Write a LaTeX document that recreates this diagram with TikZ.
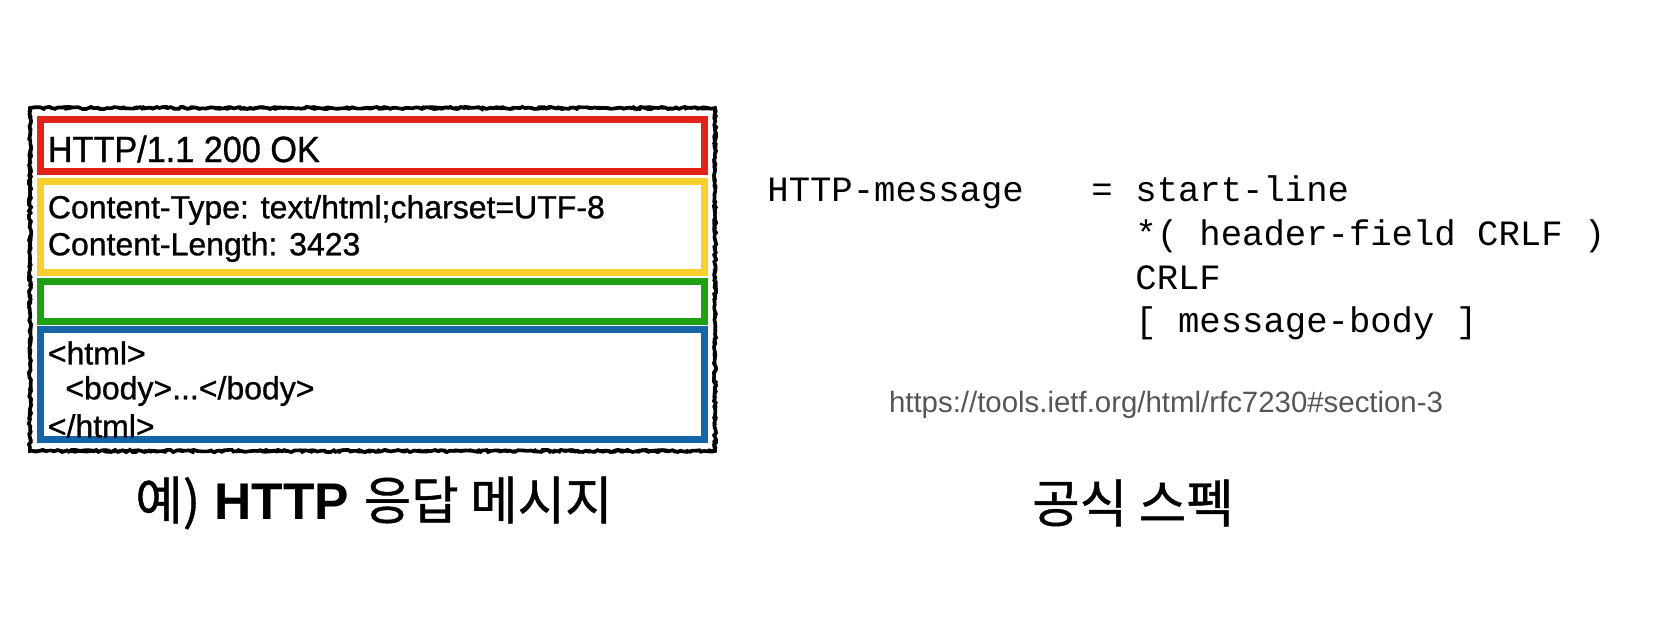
\documentclass[tikz,border=0pt]{standalone}
\usepackage{fontspec}
\setmainfont{Liberation Sans}
\setmonofont{Liberation Mono}
\newfontfamily\fieldfont{Liberation Sans}[FakeBold=0.9]
\newfontfamily\statusfont{Liberation Sans}[FakeBold=0.9, FakeStretch=0.94]
\newfontfamily\krfont{Noto Sans CJK KR}[FakeBold=0.8]
\usetikzlibrary{positioning,decorations.pathmorphing}
\definecolor{boxred}{HTML}{E2231A}
\definecolor{boxyellow}{HTML}{F9CF2E}
\definecolor{boxgreen}{HTML}{1DA014}
\definecolor{boxblue}{HTML}{1565A8}
\definecolor{urlgray}{HTML}{555555}
\begin{document}
\begin{tikzpicture}[x=0.5pt, y=-0.5pt,
        fieldbox/.style={draw, line width=3.5pt, minimum width=332pt, inner sep=0pt},
        fieldtext/.style={anchor=west, inner sep=0pt, font=\fieldfont\fontsize{16}{19}\selectfont},
        specline/.style={anchor=west, inner sep=0pt, text height=14pt, text depth=7.5pt,
            font=\ttfamily\fontsize{17.8}{21.5}\selectfont},
        caption/.style={inner sep=0pt, font=\fontsize{25.8}{30}\selectfont}]
        \useasboundingbox (0,0) rectangle (1653,619);
        % Moldura desenhada a mao
        \pgfmathsetseed{7}
        \draw[line width=1.8pt, decorate, decoration={random steps, segment length=1.5pt, amplitude=0.6pt}] (30,108) rectangle (715,451);
        \draw[line width=1.2pt, decorate, decoration={random steps, segment length=2pt, amplitude=0.8pt}] (30,108) rectangle (715,451);
        % Define as caixas da mensagem
        \node[fieldbox, draw=boxred, minimum height=26pt] (startline) at (372.5,145.5) {};
        \node[fieldbox, draw=boxyellow, minimum height=45.75pt] (headers) at (372.5,227.25) {};
        \node[fieldbox, draw=boxgreen, minimum height=20pt] (blank) at (372.5,301.5) {};
        \node[fieldbox, draw=boxblue, minimum height=55pt] (body) at (372.5,384.5) {};
        % Adiciona os textos da resposta
        \node[fieldtext, font=\statusfont\fontsize{18.2}{21}\selectfont] (status) at (47.5,149) {HTTP/1.1 200 OK};
        \node[fieldtext] (ctype) at (47.5,210) {Content-Type: text/html;charset=UTF-8};
        \node[fieldtext] (clength) at (47.5,247) {Content-Length: 3423};
        \node[fieldtext] (htmlopen) at (47.5,353) {<html>};
        \node[fieldtext] (bodytag) at (65,391) {<body>...</body>};
        \node[fieldtext] (htmlclose) at (47.5,426) {</html>};
        % Adiciona a gramatica da mensagem
        \node[specline] (msgname) at (767,195) {HTTP-message};
        \node[specline] (eq) at (1091,195) {=};
        \node[specline] (sl) at (1135,195) {start-line};
        \node[specline, below=0pt of sl.south west, anchor=north west] (hf) {*( header-field CRLF )};
        \node[specline, below=0pt of hf.south west, anchor=north west] (crlf) {CRLF};
        \node[specline, below=0pt of crlf.south west, anchor=north west] (mb) {[ message-body ]};
        \node[inner sep=0pt, text=urlgray, font=\fontsize{14.7}{17}\selectfont] (url) at (1166,405) {https://tools.ietf.org/html/rfc7230\#section-3};
        % Adiciona as legendas
        \node[caption] (leftcap) at (374,503) {{\krfont 예)} \textbf{HTTP} {\krfont 응답 메시지}};
        \node[caption] (rightcap) at (1133,503) {\krfont 공식 스펙};
    \end{tikzpicture}
\end{document}
